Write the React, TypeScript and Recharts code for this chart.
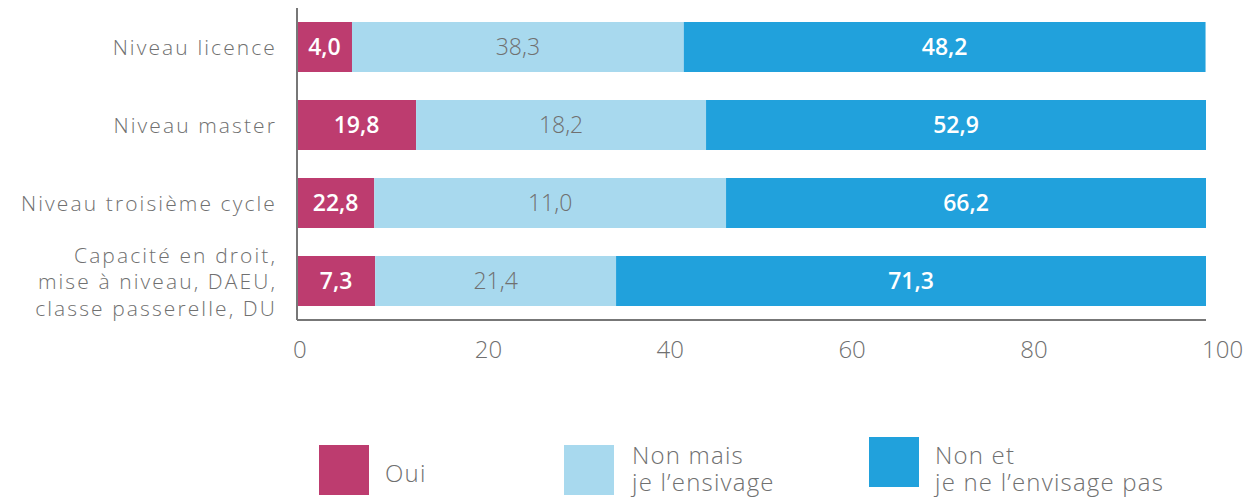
import React from 'react';
import { BarChart, Bar, XAxis, YAxis, LabelList } from 'recharts';

const categories = [
  'Niveau licence',
  'Niveau master',
  'Niveau troisième cycle',
  'Capacité en droit,\nmise à niveau, DAEU,\nclasse passerelle, DU',
];
// bar lengths as drawn in the picture
const ouiValues = [6.05, 13.1, 8.5, 8.6];
const nonMaisValues = [36.5, 31.9, 38.7, 26.5];
const nonEtValues = [57.4, 55.0, 52.8, 64.9];
// labels as printed in the picture
const ouiLabels = ['4,0', '19,8', '22,8', '7,3'];
const nonMaisLabels = ['38,3', '18,2', '11,0', '21,4'];
const nonEtLabels = ['48,2', '52,9', '66,2', '71,3'];
const xTicks = [0, 20, 40, 60, 80, 100];

const seriesNames = ['Oui', 'Non mais\nje l’ensivage', 'Non et\nje ne l’envisage pas'];
const colors = ['#BD3C6F', '#A8D9EE', '#21A1DC'];

const data = categories.map((c, i) => ({
  name: c,
  oui: ouiValues[i],
  nonMais: nonMaisValues[i],
  nonEt: nonEtValues[i],
  ouiLabel: ouiLabels[i],
  nonMaisLabel: nonMaisLabels[i],
  nonEtLabel: nonEtLabels[i],
}));

const FONT = '"Open Sans", sans-serif';
const GRAY = '#707070';

const YTick = (props: any) => {
  const { x, y, payload } = props;
  const lines = String(payload.value).split('\n');
  const lh = 26.5;
  const start = -((lines.length - 1) * lh) / 2;
  return (
    <text x={x} y={y} textAnchor="end" fill={GRAY} fontSize={21} fontFamily={FONT} fontWeight={300} letterSpacing={2.1}>
      {lines.map((l, i) => (
        <tspan key={i} x={x} dy={i === 0 ? start + 8 : lh}>{l}</tspan>
      ))}
    </text>
  );
};

const XTick = (props: any) => {
  const { x, y, payload } = props;
  return (
    <text x={x - 4} y={y + 38} textAnchor="start" fill={GRAY} fontSize={24} fontFamily={FONT} fontWeight={300}>
      {payload.value}
    </text>
  );
};

const legendItems = [
  { left: 319, top: 445, textLeft: 385 },
  { left: 564, top: 445, textLeft: 632 },
  { left: 869, top: 437, textLeft: 935 },
];

export default function App() {
  return (
    <div style={{ position: 'absolute', left: 0, top: 0, width: 1248, height: 499, background: '#fff' }}>
      <BarChart
        width={1248}
        height={499}
        data={data}
        layout="vertical"
        margin={{ top: 8, right: 42, bottom: 149, left: 0 }}
        barCategoryGap={28}
      >
        <XAxis
          type="number"
          domain={[0, 100]}
          ticks={xTicks}
          height={30}
          axisLine={{ stroke: '#777', strokeWidth: 2 }}
          tickLine={false}
          tickSize={0}
          tickMargin={0}
          tick={<XTick />}
          interval={0}
        />
        <YAxis
          type="category"
          dataKey="name"
          width={297}
          axisLine={{ stroke: '#777', strokeWidth: 2 }}
          tickLine={false}
          tickSize={0}
          tickMargin={20}
          tick={<YTick />}
          interval={0}
        />
        <Bar dataKey="oui" stackId="a" fill={colors[0]} isAnimationActive={false} barSize={50}>
          <LabelList dataKey="ouiLabel" position="center" fill="#fff" fontSize={23} fontWeight={600} fontFamily={FONT} />
        </Bar>
        <Bar dataKey="nonMais" stackId="a" fill={colors[1]} isAnimationActive={false} barSize={50}>
          <LabelList dataKey="nonMaisLabel" position="center" fill={GRAY} fontSize={23} fontWeight={300} fontFamily={FONT} />
        </Bar>
        <Bar dataKey="nonEt" stackId="a" fill={colors[2]} isAnimationActive={false} barSize={50}>
          <LabelList dataKey="nonEtLabel" position="center" fill="#fff" fontSize={23} fontWeight={600} fontFamily={FONT} />
        </Bar>
      </BarChart>
      {legendItems.map((it, i) => {
        const lines = seriesNames[i].split('\n');
        return (
          <React.Fragment key={i}>
            <div style={{ position: 'absolute', left: it.left, top: it.top, width: 50, height: 50, background: colors[i] }} />
            <div style={{
              position: 'absolute', left: it.textLeft, top: lines.length === 1 ? 459 : 441,
              fontFamily: FONT, fontWeight: 300, fontSize: 24, letterSpacing: 1.2, lineHeight: '27px', color: GRAY, whiteSpace: 'pre', textAlign: 'left',
            }}>
              {seriesNames[i]}
            </div>
          </React.Fragment>
        );
      })}
    </div>
  );
}
